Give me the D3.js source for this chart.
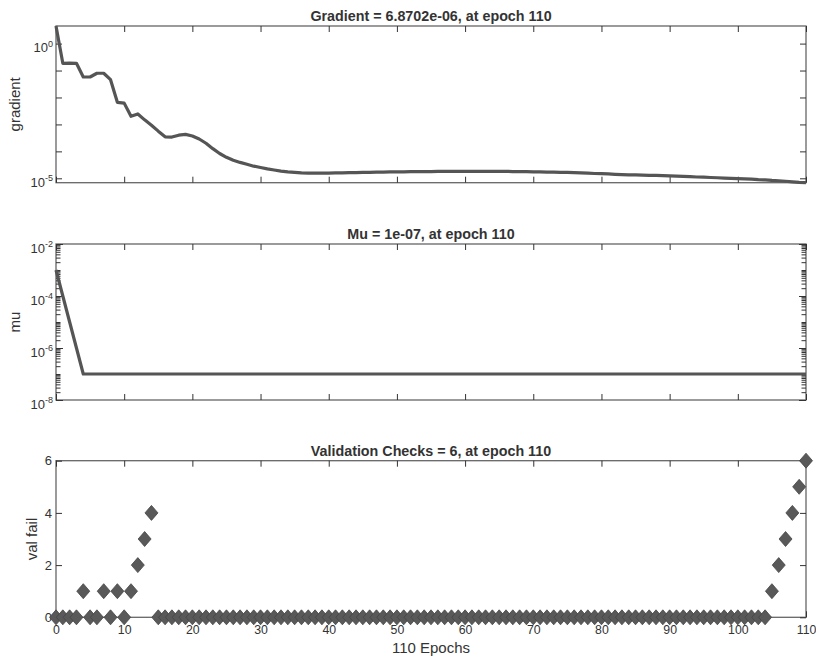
<!DOCTYPE html>
<html>
<head>
<meta charset="utf-8">
<script src="https://cdn.jsdelivr.net/npm/d3@7/dist/d3.min.js"></script>
<style>
body { margin: 0; background: #fff; }
text { font-family: "Liberation Sans", Arial, sans-serif; fill: #333; }
</style>
</head>
<body>
<svg id="chart" width="816" height="659"></svg>
<script>
// values, one per epoch 0..110
var gradient = [
    4.5, 0.186, 0.19, 0.186, 0.0575, 0.0575, 0.0794, 0.0794, 0.0457, 6.61e-3,
    6.17e-3, 2.0e-3, 2.45e-3, 1.48e-3, 9.33e-4, 5.62e-4, 3.47e-4, 3.39e-4, 3.98e-4, 4.27e-4,
    3.72e-4, 2.88e-4, 2.0e-4, 1.26e-4, 8.32e-5, 6.03e-5, 4.68e-5, 3.89e-5, 3.31e-5, 2.82e-5,
    2.51e-5, 2.24e-5, 2.04e-5, 1.86e-5, 1.74e-5, 1.66e-5, 1.58e-5, 1.55e-5, 1.55e-5, 1.55e-5,
    1.55e-5, 1.58e-5, 1.58e-5, 1.62e-5, 1.62e-5, 1.66e-5, 1.66e-5, 1.70e-5, 1.70e-5, 1.74e-5,
    1.74e-5, 1.74e-5, 1.78e-5, 1.78e-5, 1.78e-5, 1.78e-5, 1.82e-5, 1.82e-5, 1.82e-5, 1.82e-5,
    1.82e-5, 1.82e-5, 1.82e-5, 1.82e-5, 1.82e-5, 1.82e-5, 1.82e-5, 1.78e-5, 1.78e-5, 1.78e-5,
    1.74e-5, 1.74e-5, 1.70e-5, 1.70e-5, 1.66e-5, 1.66e-5, 1.62e-5, 1.58e-5, 1.55e-5, 1.51e-5,
    1.48e-5, 1.45e-5, 1.41e-5, 1.38e-5, 1.35e-5, 1.35e-5, 1.32e-5, 1.29e-5, 1.29e-5, 1.26e-5,
    1.23e-5, 1.20e-5, 1.17e-5, 1.15e-5, 1.12e-5, 1.10e-5, 1.07e-5, 1.05e-5, 1.02e-5, 1.00e-5,
    9.77e-6, 9.55e-6, 9.33e-6, 8.91e-6, 8.71e-6, 8.32e-6, 8.13e-6, 7.76e-6, 7.41e-6, 7.08e-6,
    6.8702e-6
];

var mu = [
    1e-3, 1e-4, 1e-5, 1e-6, 1e-7, 1e-7, 1e-7, 1e-7, 1e-7, 1e-7,
    1e-7, 1e-7, 1e-7, 1e-7, 1e-7, 1e-7, 1e-7, 1e-7, 1e-7, 1e-7,
    1e-7, 1e-7, 1e-7, 1e-7, 1e-7, 1e-7, 1e-7, 1e-7, 1e-7, 1e-7,
    1e-7, 1e-7, 1e-7, 1e-7, 1e-7, 1e-7, 1e-7, 1e-7, 1e-7, 1e-7,
    1e-7, 1e-7, 1e-7, 1e-7, 1e-7, 1e-7, 1e-7, 1e-7, 1e-7, 1e-7,
    1e-7, 1e-7, 1e-7, 1e-7, 1e-7, 1e-7, 1e-7, 1e-7, 1e-7, 1e-7,
    1e-7, 1e-7, 1e-7, 1e-7, 1e-7, 1e-7, 1e-7, 1e-7, 1e-7, 1e-7,
    1e-7, 1e-7, 1e-7, 1e-7, 1e-7, 1e-7, 1e-7, 1e-7, 1e-7, 1e-7,
    1e-7, 1e-7, 1e-7, 1e-7, 1e-7, 1e-7, 1e-7, 1e-7, 1e-7, 1e-7,
    1e-7, 1e-7, 1e-7, 1e-7, 1e-7, 1e-7, 1e-7, 1e-7, 1e-7, 1e-7,
    1e-7, 1e-7, 1e-7, 1e-7, 1e-7, 1e-7, 1e-7, 1e-7, 1e-7, 1e-7,
    1e-7
];

var valFail = [
    0, 0, 0, 0, 1, 0, 0, 1, 0, 1,
    0, 1, 2, 3, 4, 0, 0, 0, 0, 0,
    0, 0, 0, 0, 0, 0, 0, 0, 0, 0,
    0, 0, 0, 0, 0, 0, 0, 0, 0, 0,
    0, 0, 0, 0, 0, 0, 0, 0, 0, 0,
    0, 0, 0, 0, 0, 0, 0, 0, 0, 0,
    0, 0, 0, 0, 0, 0, 0, 0, 0, 0,
    0, 0, 0, 0, 0, 0, 0, 0, 0, 0,
    0, 0, 0, 0, 0, 0, 0, 0, 0, 0,
    0, 0, 0, 0, 0, 0, 0, 0, 0, 0,
    0, 0, 0, 0, 0, 1, 2, 3, 4, 5,
    6
];

var xTicks = [0, 10, 20, 30, 40, 50, 60, 70, 80, 90, 100, 110];
var gradTicks = [1e-5, 1e-4, 1e-3, 1e-2, 1e-1, 1e0];
var gradLabels = [[1e0, "0"], [1e-5, "-5"]];
var muTicks = [1e-8, 1e-6, 1e-4, 1e-2];
var muLabels = [[1e-2, "-2"], [1e-4, "-4"], [1e-6, "-6"], [1e-8, "-8"]];
var muMinor = [];
[-8, -7, -6, -5, -4, -3].forEach(function(e) {
    [1, 2, 3, 4, 5, 6, 7, 8, 9].forEach(function(m) {
        if (m > 1 || e % 2 != 0) muMinor.push(m * Math.pow(10, e));
    });
});
var valTicks = [0, 2, 4, 6];

var svg = d3.select("#chart");
var x = d3.scaleLinear().domain([0, 110]).range([56, 806]);

var yGrad = d3.scaleLog().domain([6.8702e-6, 4.5]).range([182.7, 26]);
var yMu = d3.scaleLog().domain([1e-8, 1e-2]).range([400, 244]);
var yVal = d3.scaleLinear().domain([0, 6]).range([617.3, 460.7]);

function frame(y, yTicks, size, showX) {
    var r = y.range();
    var g = svg.append("g").attr("color", "#333");
    g.append("rect")
        .attr("x", x(0)).attr("y", r[1])
        .attr("width", x(110) - x(0)).attr("height", r[0] - r[1])
        .attr("fill", "none").attr("stroke", "#666").attr("stroke-width", 1.3);

    g.append("g").attr("class", "xax").attr("transform", "translate(0," + r[0] + ")")
        .call(d3.axisBottom(x).tickValues(xTicks).tickSizeInner(-6).tickSizeOuter(0)
              .tickPadding(8).tickFormat(showX ? d3.format("d") : ""));
    g.append("g").attr("transform", "translate(0," + r[1] + ")")
        .call(d3.axisTop(x).tickValues(xTicks).tickSizeInner(-6).tickSizeOuter(0)
              .tickFormat(""));
    g.append("g").attr("transform", "translate(" + x(0) + ",0)")
        .call(d3.axisLeft(y).tickValues(yTicks).tickSizeInner(-size).tickSizeOuter(0)
              .tickPadding(4).tickFormat(y.base ? "" : d3.format("d")));
    g.append("g").attr("transform", "translate(" + x(110) + ",0)")
        .call(d3.axisRight(y).tickValues(yTicks).tickSizeInner(-size).tickSizeOuter(0)
              .tickFormat(""));
    g.selectAll(".domain").remove();
    g.selectAll(".tick text").style("font-size", "13px");
    g.selectAll(".xax .tick text").style("font-size", "12.3px");
    return g;
}

function powLabels(g, y, labels) {
    var t = g.selectAll(".plab").data(labels).enter().append("text")
        .attr("class", "plab")
        .attr("x", x(0) - 3)
        .attr("y", function(d) { return y(d[0]) + 8.5; })
        .attr("text-anchor", "end")
        .style("font-size", "13px");
    t.append("tspan").text("10");
    t.append("tspan").attr("dy", -5.5).style("font-size", "9px")
        .text(function(d) { return d[1]; });
}

function title(y, s) {
    svg.append("text")
        .attr("x", (x(0) + x(110)) / 2).attr("y", y.range()[1] - 5)
        .attr("text-anchor", "middle")
        .style("font-size", "14.3px").style("font-weight", "bold")
        .text(s);
}

function ylabel(y, s, px) {
    var r = y.range();
    svg.append("text")
        .attr("transform", "translate(" + px + "," + (r[0] + r[1]) / 2 + ") rotate(-90)")
        .attr("text-anchor", "middle")
        .style("font-size", "15px")
        .text(s);
}

var line = d3.line().x(function(d, i) { return x(i); });

// gradient
var g1 = frame(yGrad, gradTicks, 6, false);
powLabels(g1, yGrad, gradLabels);
title(yGrad, "Gradient = 6.8702e-06, at epoch 110");
ylabel(yGrad, "gradient", 20);
svg.append("path").datum(gradient)
    .attr("d", line.y(function(d) { return yGrad(d); }))
    .attr("fill", "none").attr("stroke", "#555").attr("stroke-width", 3.2)
    .attr("stroke-linejoin", "round");

// mu
var g2 = frame(yMu, muTicks, 7, false);
g2.append("g").attr("transform", "translate(" + x(0) + ",0)")
    .call(d3.axisLeft(yMu).tickValues(muMinor).tickSizeInner(-4.5).tickSizeOuter(0).tickFormat(""));
g2.append("g").attr("transform", "translate(" + x(110) + ",0)")
    .call(d3.axisRight(yMu).tickValues(muMinor).tickSizeInner(-4.5).tickSizeOuter(0).tickFormat(""));
g2.selectAll(".domain").remove();
powLabels(g2, yMu, muLabels);
title(yMu, "Mu = 1e-07, at epoch 110");
ylabel(yMu, "mu", 20);
svg.append("path").datum(mu)
    .attr("d", line.y(function(d) { return yMu(d); }))
    .attr("fill", "none").attr("stroke", "#555").attr("stroke-width", 3.2)
    .attr("stroke-linejoin", "round");

// validation checks
frame(yVal, valTicks, 6, true);
title(yVal, "Validation Checks = 6, at epoch 110");
ylabel(yVal, "val fail", 37);
svg.append("text")
    .attr("x", (x(0) + x(110)) / 2).attr("y", 653)
    .attr("text-anchor", "middle")
    .style("font-size", "15px")
    .text("110 Epochs");

var diamond = "M0,-7.5L6.5,0L0,7.5L-6.5,0Z";
svg.append("g").selectAll("path").data(valFail).enter().append("path")
    .attr("transform", function(d, i) { return "translate(" + x(i) + "," + yVal(d) + ")"; })
    .attr("d", diamond)
    .attr("fill", "#595959").attr("stroke", "#454545").attr("stroke-width", 0.8);
</script>
</body>
</html>
